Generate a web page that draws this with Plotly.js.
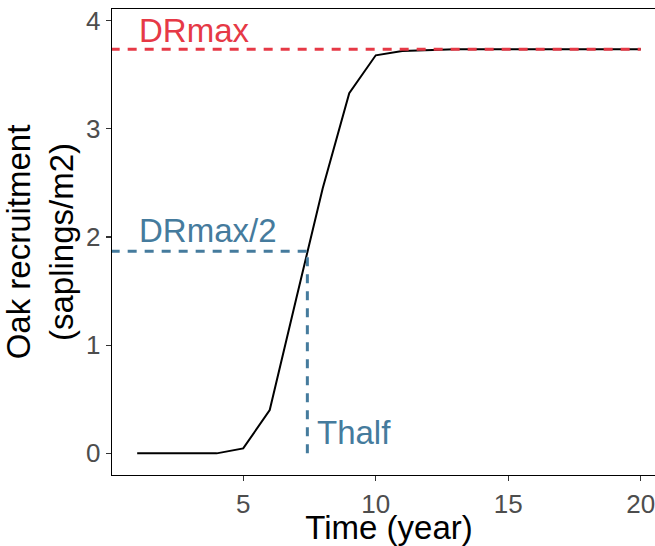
<!DOCTYPE html>
<html>
<head>
<meta charset="utf-8">
<script src="https://cdn.plot.ly/plotly-3.0.1.min.js"></script>
<style>
html, body { margin: 0; padding: 0; overflow: hidden; background: #fff; }
#chart { width: 671px; height: 546px; }
</style>
</head>
<body>
<div id="chart"></div>
<script>
// Data
const years = [1, 2, 3, 4, 5, 6, 7, 8, 9, 10, 11, 12, 13, 14, 15, 16, 17, 18, 19, 20];
const recruitment = [0, 0, 0, 0, 0.046, 0.40, 1.43, 2.45, 3.33, 3.68, 3.72, 3.73, 3.735, 3.735, 3.735, 3.735, 3.735, 3.735, 3.735, 3.735];
const DRmax = 3.735;
const Thalf = 7.42;
const lineStartX = 0;
const lineEndX = 20;
const xTicks = [5, 10, 15, 20];
const yTicks = [0, 1, 2, 3, 4];
const labels = ["DRmax", "DRmax/2", "Thalf"];

const red = "#E63946";
const blue = "#457B9D";
const font = "Liberation Sans, Arial, Helvetica, sans-serif";

const traces = [
  { x: years, y: recruitment, type: "scatter", mode: "lines",
    line: { color: "#000", width: 2 }, hoverinfo: "skip" },
  { x: [lineStartX, lineEndX], y: [DRmax, DRmax], type: "scatter", mode: "lines",
    line: { color: red, width: 3, dash: "9px,8px" }, hoverinfo: "skip" },
  { x: [lineStartX, Thalf], y: [DRmax / 2, DRmax / 2], type: "scatter", mode: "lines",
    line: { color: blue, width: 3, dash: "9px,8px" }, hoverinfo: "skip" },
  { x: [Thalf, Thalf], y: [0, DRmax / 2], type: "scatter", mode: "lines",
    line: { color: blue, width: 3, dash: "9px,8px" }, hoverinfo: "skip" }
];

const layout = {
  width: 671, height: 546,
  margin: { l: 112, r: 5, t: 9, b: 71 },
  paper_bgcolor: "#fff", plot_bgcolor: "#fff",
  showlegend: false,
  font: { family: font, color: "#000" },
  xaxis: {
    range: [0.05, 20.95], tickvals: xTicks, ticktext: xTicks.map(String),
    showgrid: false, zeroline: false,
    showline: true, mirror: true, linecolor: "#000", linewidth: 1.3,
    ticks: "outside", ticklen: 5, tickwidth: 1.1, tickcolor: "#333",
    tickfont: { size: 26, color: "#4d4d4d", family: font },
    title: { text: "Time (year)", font: { size: 33, color: "#000", family: font }, standoff: 7 },
    automargin: false
  },
  yaxis: {
    range: [-0.2, 4.108], tickvals: yTicks, ticktext: yTicks.map(String),
    showgrid: false, zeroline: false,
    showline: true, mirror: true, linecolor: "#000", linewidth: 1.3,
    ticks: "outside", ticklen: 5, tickwidth: 1.1, tickcolor: "#333",
    tickfont: { size: 26, color: "#4d4d4d", family: font },
    title: { text: "Oak recruitment<br>(saplings/m2)", font: { size: 33, color: "#000", family: font }, standoff: 6 },
    automargin: false
  },
  annotations: [
    { x: 1, y: DRmax + 0.17, xref: "x", yref: "y", text: labels[0], showarrow: false,
      xanchor: "left", yanchor: "middle", font: { size: 33, color: red, family: font } },
    { x: 1, y: DRmax / 2 + 0.19, xref: "x", yref: "y", text: labels[1], showarrow: false,
      xanchor: "left", yanchor: "middle", font: { size: 33, color: blue, family: font } },
    { x: Thalf + 0.3, y: 0.19, xref: "x", yref: "y", text: labels[2], showarrow: false,
      xanchor: "left", yanchor: "middle", font: { size: 33, color: blue, family: font } }
  ]
};

Plotly.newPlot("chart", traces, layout, { staticPlot: true, displayModeBar: false });
</script>
</body>
</html>
